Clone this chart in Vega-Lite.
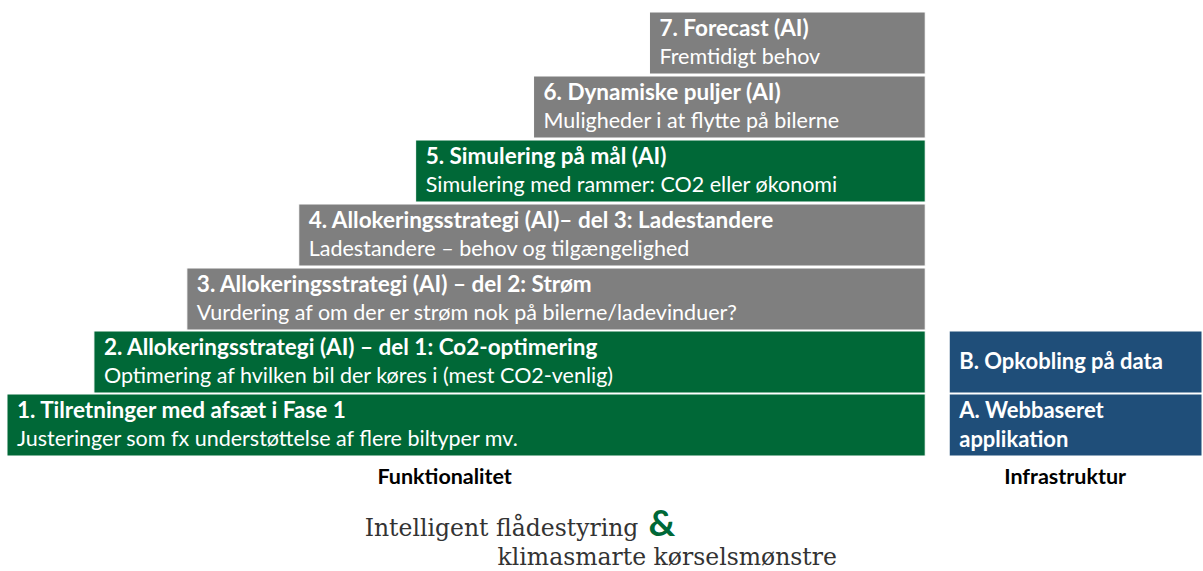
{
  "$schema": "https://vega.github.io/schema/vega-lite/v6.json",
  "width": 1203,
  "height": 571,
  "padding": 0,
  "autosize": {"type": "fit", "contains": "padding"},
  "background": "white",
  "config": {"view": {"stroke": null}},
  "datasets": {
    "boxes": [
      {"id": "1", "x0": 7, "x1": 926, "y0": 394, "y1": 456, "kind": "green", "title": "1. Tilretninger med afsæt i Fase 1", "sub": "Justeringer som fx understøttelse af flere biltyper mv."},
      {"id": "2", "x0": 94, "x1": 926, "y0": 331, "y1": 393, "kind": "green", "title": "2. Allokeringsstrategi (AI) – del 1: Co2-optimering", "sub": "Optimering af hvilken bil der køres i (mest CO2-venlig)"},
      {"id": "3", "x0": 187, "x1": 926, "y0": 268, "y1": 330, "kind": "gray", "title": "3. Allokeringsstrategi (AI) – del 2: Strøm", "sub": "Vurdering af om der er strøm nok på bilerne/ladevinduer?"},
      {"id": "4", "x0": 299, "x1": 926, "y0": 204, "y1": 266, "kind": "gray", "title": "4. Allokeringsstrategi (AI)– del 3: Ladestandere", "sub": "Ladestandere – behov og tilgængelighed"},
      {"id": "5", "x0": 416, "x1": 926, "y0": 140, "y1": 202, "kind": "green", "title": "5. Simulering på mål (AI)", "sub": "Simulering med rammer: CO2 eller økonomi"},
      {"id": "6", "x0": 534, "x1": 926, "y0": 76, "y1": 138, "kind": "gray", "title": "6. Dynamiske puljer (AI)", "sub": "Muligheder i at flytte på bilerne"},
      {"id": "7", "x0": 650, "x1": 926, "y0": 12, "y1": 74, "kind": "gray", "title": "7. Forecast (AI)", "sub": "Fremtidigt behov"}
    ],
    "infra": [
      {"id": "A", "x0": 950, "x1": 1203, "y0": 394, "y1": 456, "kind": "blue", "title": "A. Webbaseret\napplikation"},
      {"id": "B", "x0": 950, "x1": 1203, "y0": 331, "y1": 393, "kind": "blue", "title": "B. Opkobling på data"}
    ],
    "captions": [
      {"label": "Funktionalitet", "x": 445, "y": 478},
      {"label": "Infrastruktur", "x": 1066, "y": 478}
    ],
    "logo": [
      {"label": "Intelligent flådestyring", "x": 365, "y": 536},
      {"label": "klimasmarte kørselsmønstre", "x": 498, "y": 565}
    ],
    "amp": [
      {"label": "&", "x": 649, "y": 536}
    ]
  },
  "encoding": {},
  "layer": [
    {
      "data": {"name": "boxes"},
      "mark": {"type": "rect", "stroke": "white", "strokeWidth": 1},
      "encoding": {
        "x": {"field": "x0", "type": "quantitative", "scale": {"domain": [0, 1203], "nice": false, "zero": false}, "axis": null},
        "x2": {"field": "x1"},
        "y": {"field": "y0", "type": "quantitative", "scale": {"domain": [0, 571], "nice": false, "zero": false, "reverse": true}, "axis": null},
        "y2": {"field": "y1"},
        "color": {"field": "kind", "type": "nominal", "scale": {"domain": ["green", "gray", "blue"], "range": ["#006837", "#7f7f7f", "#1f4e79"]}, "legend": null}
      }
    },
    {
      "data": {"name": "infra"},
      "mark": {"type": "rect", "stroke": "white", "strokeWidth": 1},
      "encoding": {
        "x": {"field": "x0", "type": "quantitative"},
        "x2": {"field": "x1"},
        "y": {"field": "y0", "type": "quantitative"},
        "y2": {"field": "y1"},
        "color": {"field": "kind", "type": "nominal", "legend": null}
      }
    },
    {
      "data": {"name": "boxes"},
      "mark": {"type": "text", "align": "left", "baseline": "alphabetic", "dx": 10, "dy": 24, "font": "Lato", "fontWeight": "bold", "fontSize": 22.5, "fill": "white"},
      "encoding": {
        "x": {"field": "x0", "type": "quantitative"},
        "y": {"field": "y0", "type": "quantitative"},
        "text": {"field": "title"}
      }
    },
    {
      "data": {"name": "boxes"},
      "mark": {"type": "text", "align": "left", "baseline": "alphabetic", "dx": 10, "dy": 52, "font": "Lato", "fontSize": 21.5, "fill": "white"},
      "encoding": {
        "x": {"field": "x0", "type": "quantitative"},
        "y": {"field": "y0", "type": "quantitative"},
        "text": {"field": "sub"}
      }
    },
    {
      "data": {"name": "infra"},
      "transform": [{"filter": "datum.id === 'B'"}],
      "mark": {"type": "text", "align": "left", "baseline": "middle", "dx": 10, "dy": 31, "font": "Lato", "fontWeight": "bold", "fontSize": 22, "fill": "white"},
      "encoding": {
        "x": {"field": "x0", "type": "quantitative"},
        "y": {"field": "y0", "type": "quantitative"},
        "text": {"field": "title"}
      }
    },
    {
      "data": {"name": "infra"},
      "transform": [{"filter": "datum.id === 'A'"}],
      "mark": {"type": "text", "align": "left", "baseline": "middle", "dx": 10, "dy": 17, "font": "Lato", "fontWeight": "bold", "fontSize": 22, "fill": "white", "lineBreak": "\n", "lineHeight": 29},
      "encoding": {
        "x": {"field": "x0", "type": "quantitative"},
        "y": {"field": "y0", "type": "quantitative"},
        "text": {"field": "title"}
      }
    },
    {
      "data": {"name": "captions"},
      "mark": {"type": "text", "align": "center", "baseline": "middle", "font": "Lato", "fontWeight": "bold", "fontSize": 21.5, "fill": "black"},
      "encoding": {
        "x": {"field": "x", "type": "quantitative"},
        "y": {"field": "y", "type": "quantitative"},
        "text": {"field": "label"}
      }
    },
    {
      "data": {"name": "logo"},
      "mark": {"type": "text", "align": "left", "baseline": "alphabetic", "font": "DejaVu Serif", "fontSize": 23.5, "fill": "#333333"},
      "encoding": {
        "x": {"field": "x", "type": "quantitative"},
        "y": {"field": "y", "type": "quantitative"},
        "text": {"field": "label"}
      }
    },
    {
      "data": {"name": "amp"},
      "mark": {"type": "text", "align": "left", "baseline": "alphabetic", "font": "Lato", "fontWeight": "bold", "fontSize": 37, "fill": "#006837"},
      "encoding": {
        "x": {"field": "x", "type": "quantitative"},
        "y": {"field": "y", "type": "quantitative"},
        "text": {"field": "label"}
      }
    }
  ]
}
